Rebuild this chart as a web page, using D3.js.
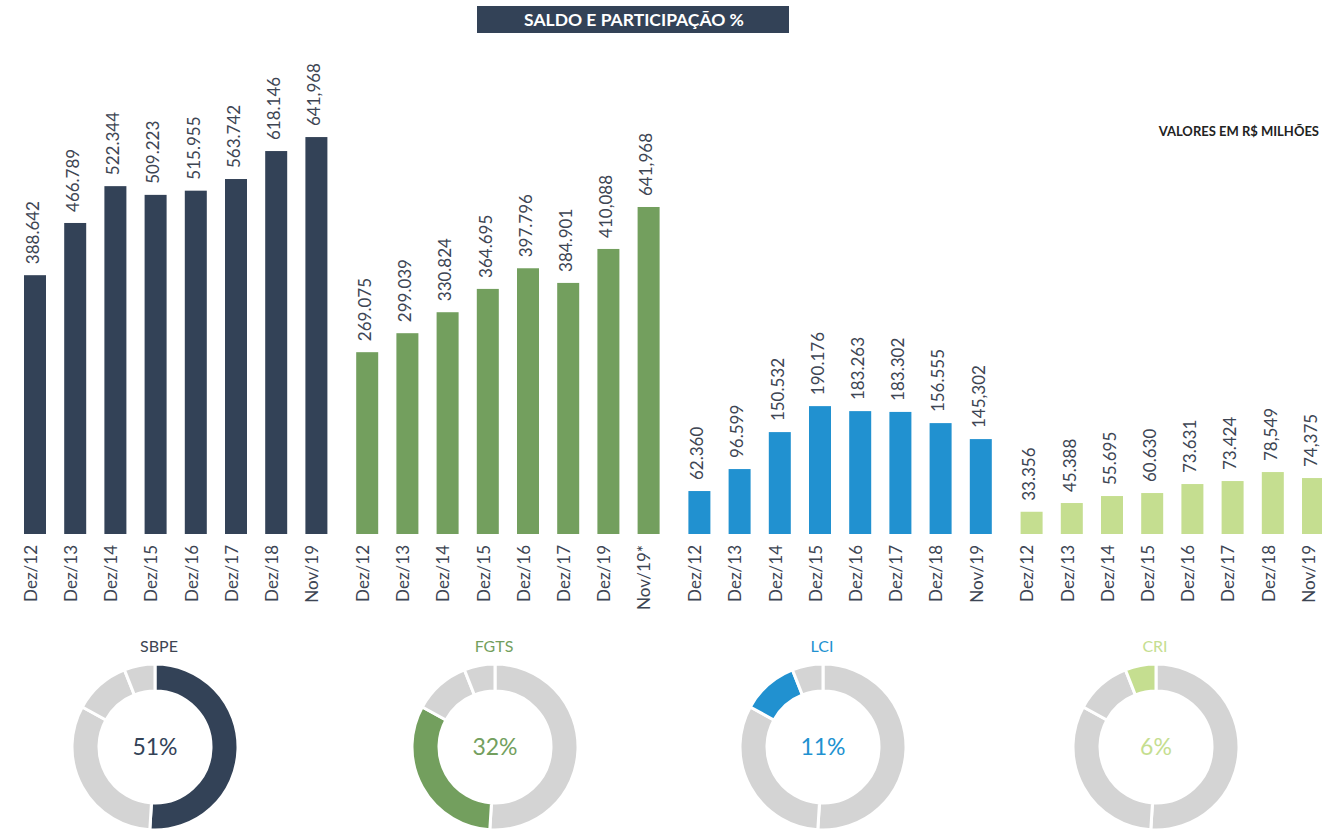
<!DOCTYPE html>
<html><head><meta charset="utf-8">
<script src="https://cdn.jsdelivr.net/npm/d3@7"></script>
<style>html,body{margin:0;padding:0;background:#fff}svg{display:block;font-family:Lato,"Open Sans",sans-serif}</style>
</head><body>
<svg id="c" width="1322" height="830"></svg>
<script>
// ---- data ----
const seriesNames = ["SBPE", "FGTS", "LCI", "CRI"];
const seriesColors = ["#334257", "#739f5e", "#2191d0", "#c5de90"];
const sharePct = [51, 32, 11, 6];

const catsSBPE = ["Dez/12","Dez/13","Dez/14","Dez/15","Dez/16","Dez/17","Dez/18","Nov/19"];
const catsFGTS = ["Dez/12","Dez/13","Dez/14","Dez/15","Dez/16","Dez/17","Dez/19","Nov/19*"];
const catsLCI  = ["Dez/12","Dez/13","Dez/14","Dez/15","Dez/16","Dez/17","Dez/18","Nov/19"];
const catsCRI  = ["Dez/12","Dez/13","Dez/14","Dez/15","Dez/16","Dez/17","Dez/18","Nov/19"];

// bar heights as drawn (R$ milhões)
const valsSBPE = [388.6, 467.0, 522.3, 509.2, 515.5, 533.0, 575.0, 596.0];
const valsFGTS = [273.0, 301.5, 333.0, 368.0, 399.0, 377.0, 428.0, 491.0];
const valsLCI  = [64.5, 97.5, 153.0, 192.0, 184.5, 183.3, 166.5, 142.5];
const valsCRI  = [33.4, 46.5, 57.0, 61.5, 75.0, 79.5, 93.0, 84.0];

// printed value labels
const lblSBPE = ["388.642","466.789","522.344","509.223","515.955","563.742","618.146","641,968"];
const lblFGTS = ["269.075","299.039","330.824","364.695","397.796","384.901","410,088","641,968"];
const lblLCI  = ["62.360","96.599","150.532","190.176","183.263","183.302","156.555","145,302"];
const lblCRI  = ["33.356","45.388","55.695","60.630","73.631","73.424","78,549","74,375"];

const titleText = "SALDO E PARTICIPAÇÃO %";
const unitText = "VALORES EM R$ MILHÕES";

// ---- build ----
const groups = [
  {cats: catsSBPE, vals: valsSBPE, lbls: lblSBPE},
  {cats: catsFGTS, vals: valsFGTS, lbls: lblFGTS},
  {cats: catsLCI,  vals: valsLCI,  lbls: lblLCI},
  {cats: catsCRI,  vals: valsCRI,  lbls: lblCRI}
];

const svg = d3.select("#c");
const textColor = "#3d4553";

// title
svg.append("rect").attr("x", 477).attr("y", 6).attr("width", 312).attr("height", 27).attr("fill", "#334257");
svg.append("text").attr("x", 634).attr("y", 26).attr("text-anchor", "middle")
  .attr("fill", "#fff").attr("font-weight", 700).attr("font-size", 17.5).text(titleText);
svg.append("text").attr("x", 1319).attr("y", 136).attr("text-anchor", "end")
  .attr("fill", "#222").attr("font-weight", 700).attr("font-size", 13).text(unitText);

const baseY = 534;
const y = d3.scaleLinear().domain([0, 800]).range([baseY, baseY - 800 * 0.666]);
const step = 40.2, bw = 22, pin = 1 - bw / step;

groups.forEach((g, gi) => {
  const x0 = 24 + gi * 332.2;
  const x = d3.scaleBand().domain(g.cats).range([x0, x0 + step * (g.cats.length - pin)]).paddingInner(pin).paddingOuter(0);
  const gg = svg.append("g");
  const data = g.cats.map((c, i) => ({c, v: g.vals[i], l: g.lbls[i]}));
  gg.selectAll("rect").data(data).join("rect")
    .attr("x", d => x(d.c)).attr("width", x.bandwidth())
    .attr("y", d => y(d.v)).attr("height", d => y(0) - y(d.v))
    .attr("fill", seriesColors[gi]);
  gg.selectAll("text.val").data(data).join("text").attr("class", "val")
    .attr("transform", d => `translate(${x(d.c) + x.bandwidth() / 2},${y(d.v) - 11}) rotate(-90)`)
    .attr("dy", "0.22em").attr("text-anchor", "start")
    .attr("font-size", 17).attr("fill", textColor).text(d => d.l);
  // axis labels
  const ax = d3.axisBottom(x).tickSize(0).tickPadding(0);
  const axg = gg.append("g").attr("transform", `translate(0,${baseY})`).call(ax);
  axg.select(".domain").remove();
  axg.selectAll(".tick text")
    .attr("transform", "translate(0,11) rotate(-90)")
    .attr("x", 0).attr("y", 0).attr("dy", "0.1em")
    .attr("text-anchor", "end").attr("font-size", 17)
    .attr("font-family", "Lato, sans-serif").attr("fill", textColor);
});

// donuts
const pie = d3.pie().sort(null).value(d => d);
const arcs = pie(sharePct);
const arc = d3.arc().innerRadius(56).outerRadius(83);
const donutX = [155, 495, 823, 1156];
seriesNames.forEach((name, gi) => {
  const g = svg.append("g").attr("transform", `translate(${donutX[gi]},747)`);
  g.selectAll("path").data(arcs).join("path")
    .attr("d", arc)
    .attr("fill", (d, i) => i === gi ? seriesColors[gi] : "#d4d4d4")
    .attr("stroke", "#fff").attr("stroke-width", 3);
  g.append("text").attr("y", 8).attr("text-anchor", "middle")
    .attr("font-size", 23).attr("fill", seriesColors[gi]).text(sharePct[gi] + "%");
  svg.append("text").attr("x", donutX[gi] + (gi === 0 ? 4 : -1)).attr("y", 652).attr("text-anchor", "middle")
    .attr("font-size", 16).attr("fill", gi === 0 ? "#3d4553" : seriesColors[gi]).text(name);
});
</script>
</body></html>
